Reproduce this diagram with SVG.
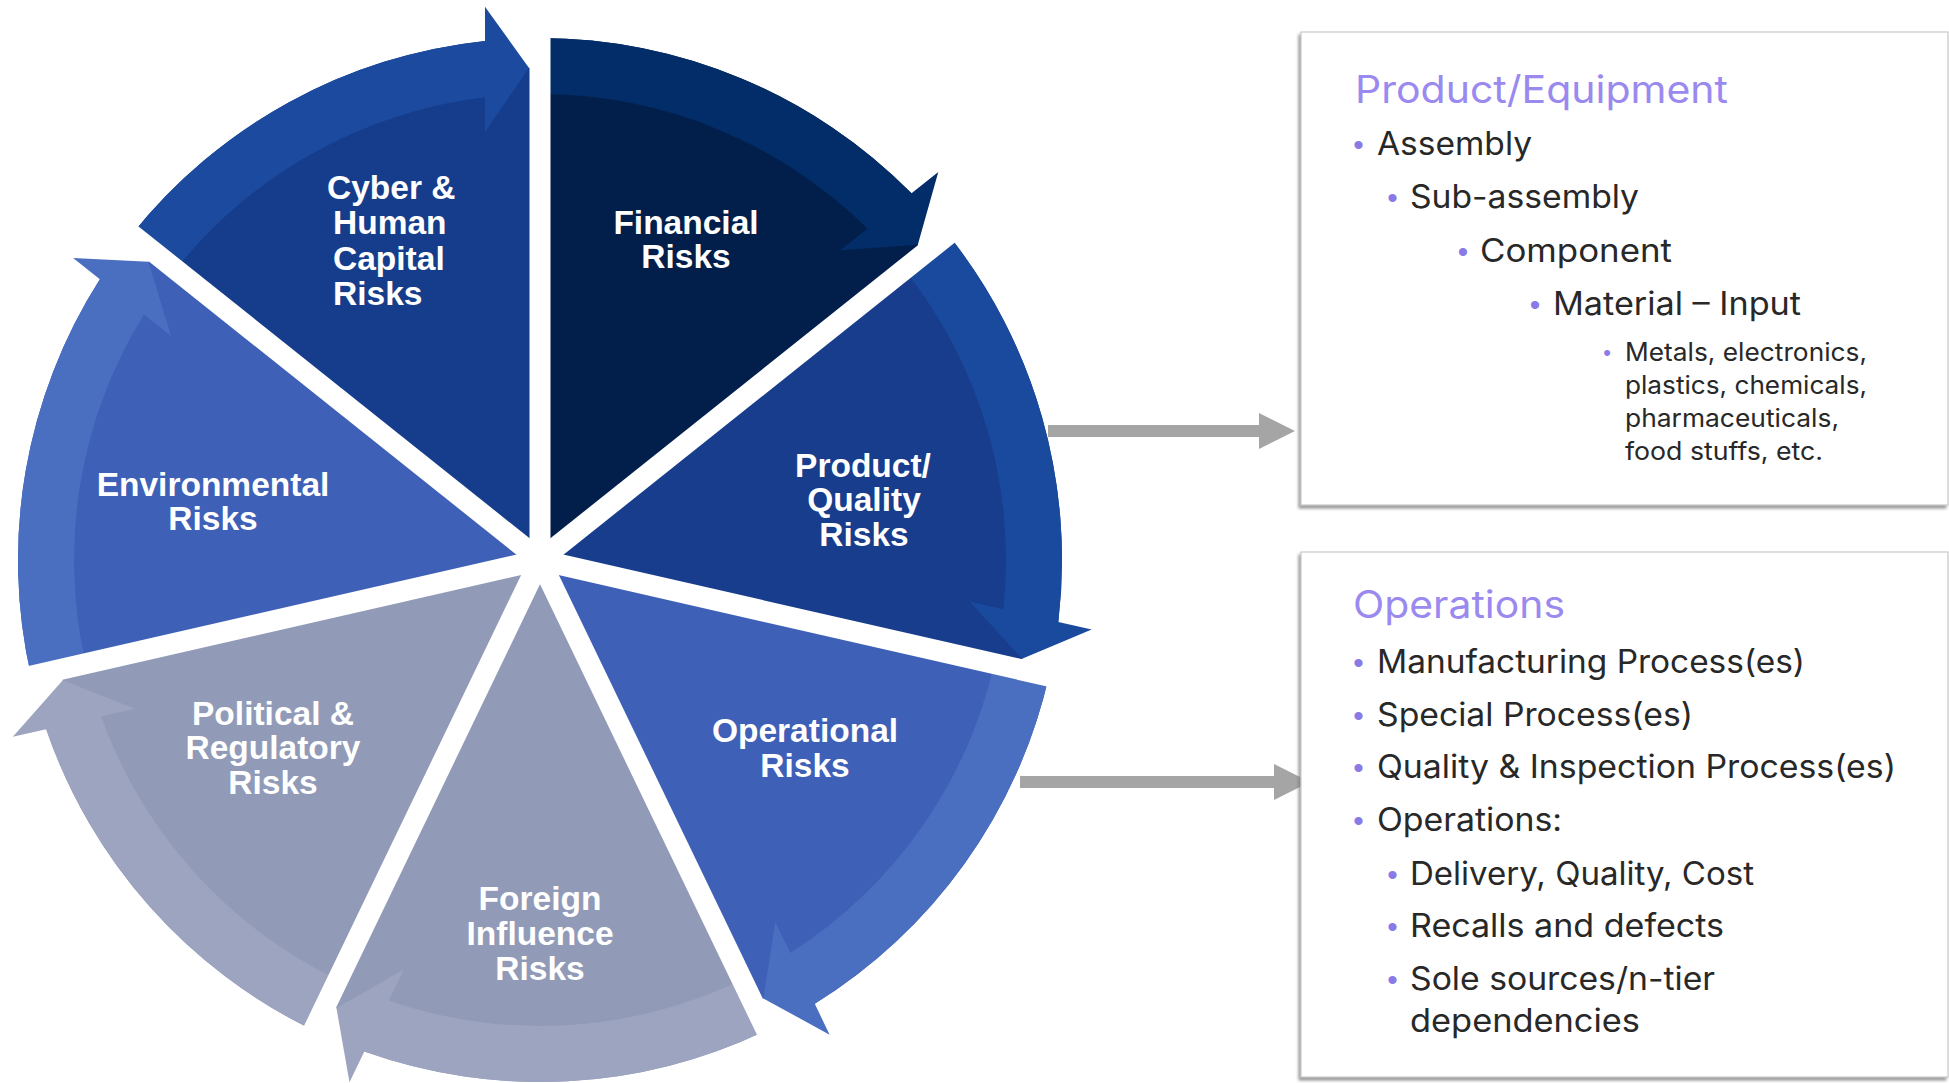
<svg xmlns="http://www.w3.org/2000/svg" xmlns:xlink="http://www.w3.org/1999/xlink" width="1949" height="1083" viewBox="0 0 1949 1083">
  <defs>
    <path id="wedge" d="M540,560 L131.9,234.5 A522,522 0 0 1 485,40.9 L529,68 L540,68 Z"/>
    <path id="band" d="M131.9,234.5 A522,522 0 0 1 485,40.9 L485,6.7 L529,68 L485,132 L485,97.3 A466,466 0 0 0 175.7,269.5 Z"/>
    <line id="gap" x1="540" y1="560" x2="540" y2="0"/>
    <filter id="shadow" x="-5%" y="-5%" width="110%" height="110%">
      <feDropShadow dx="-2" dy="3" stdDeviation="1.5" flood-color="#7a7a7a" flood-opacity="0.75"/>
    </filter>
  </defs>
  <style>
    .lbl { font-family: "Liberation Sans", Arial, sans-serif; font-weight: bold; font-size: 33.5px; fill: #ffffff; text-anchor: middle; }
    .lbl-l { font-family: "Liberation Sans", Arial, sans-serif; font-weight: bold; font-size: 33.5px; fill: #ffffff; }
    .gapline { stroke: #ffffff; stroke-width: 21; }
    .box { fill: #ffffff; stroke: #c9c9c9; stroke-width: 1.2; filter: url(#shadow); }
    .head { font-family: Inter, "Liberation Sans", sans-serif; font-size: 38px; fill: #9a8af0; }
    .body { font-family: Inter, "Liberation Sans", sans-serif; font-size: 32px; fill: #282828; }
    .small { font-family: Inter, "Liberation Sans", sans-serif; font-size: 25px; fill: #282828; }
    .bul { font-family: "Liberation Sans", Arial, sans-serif; font-size: 30px; fill: #8a7ae8; text-anchor: middle; }
    .bul-s { font-family: "Liberation Sans", Arial, sans-serif; font-size: 22px; fill: #8a7ae8; text-anchor: middle; }
    .conn { fill: #a5a5a5; }
  </style>

  <rect width="1949" height="1083" fill="#ffffff"/>

  <g id="connectors">
    <polygon class="conn" points="1048,425 1259,425 1259,413 1295,431 1259,449 1259,437 1048,437"/>
    <polygon class="conn" points="1020,776 1274,776 1274,764 1310,782 1274,800 1274,788 1020,788"/>
  </g>

  <g id="wheel">
    <g id="seg-cyber">
      <use xlink:href="#wedge" href="#wedge" fill="#163d8b"/>
      <use xlink:href="#band" href="#band" fill="#1b4a9e"/>
    </g>
    <g id="seg-financial">
      <use xlink:href="#wedge" href="#wedge" fill="#021f4c" transform="rotate(51.4286 540 560)"/>
      <use xlink:href="#band" href="#band" fill="#032d68" transform="rotate(51.4286 540 560)"/>
    </g>
    <g id="seg-product">
      <use xlink:href="#wedge" href="#wedge" fill="#173d8c" transform="rotate(102.8571 540 560)"/>
      <use xlink:href="#band" href="#band" fill="#1a4a9e" transform="rotate(102.8571 540 560)"/>
    </g>
    <g id="seg-operational">
      <use xlink:href="#wedge" href="#wedge" fill="#3f60b7" transform="rotate(154.2857 540 560)"/>
      <use xlink:href="#band" href="#band" fill="#4a6ec0" transform="rotate(154.2857 540 560)"/>
    </g>
    <g id="seg-foreign">
      <use xlink:href="#wedge" href="#wedge" fill="#919bb8" transform="rotate(205.7143 540 560)"/>
      <use xlink:href="#band" href="#band" fill="#9da4c0" transform="rotate(205.7143 540 560)"/>
    </g>
    <g id="seg-political">
      <use xlink:href="#wedge" href="#wedge" fill="#919bb8" transform="rotate(257.1429 540 560)"/>
      <use xlink:href="#band" href="#band" fill="#9da4c0" transform="rotate(257.1429 540 560)"/>
    </g>
    <g id="seg-environmental">
      <use xlink:href="#wedge" href="#wedge" fill="#3f60b7" transform="rotate(308.5714 540 560)"/>
      <use xlink:href="#band" href="#band" fill="#4a6ec0" transform="rotate(308.5714 540 560)"/>
    </g>
    <g id="gaps">
      <use xlink:href="#gap" href="#gap" class="gapline"/>
      <use xlink:href="#gap" href="#gap" class="gapline" transform="rotate(51.4286 540 560)"/>
      <use xlink:href="#gap" href="#gap" class="gapline" transform="rotate(102.8571 540 560)"/>
      <use xlink:href="#gap" href="#gap" class="gapline" transform="rotate(154.2857 540 560)"/>
      <use xlink:href="#gap" href="#gap" class="gapline" transform="rotate(205.7143 540 560)"/>
      <use xlink:href="#gap" href="#gap" class="gapline" transform="rotate(257.1429 540 560)"/>
      <use xlink:href="#gap" href="#gap" class="gapline" transform="rotate(308.5714 540 560)"/>
    </g>
  </g>

  <g id="label-cyber">
    <text class="lbl-l" x="327" y="199">Cyber &amp;</text>
    <text class="lbl-l" x="333" y="234">Human</text>
    <text class="lbl-l" x="333" y="270">Capital</text>
    <text class="lbl-l" x="333" y="305">Risks</text>
  </g>
  <g id="label-financial">
    <text class="lbl" x="686" y="234">Financial</text>
    <text class="lbl" x="686" y="268">Risks</text>
  </g>
  <g id="label-product">
    <text class="lbl" x="863" y="477">Product/</text>
    <text class="lbl" x="864" y="511">Quality</text>
    <text class="lbl" x="864" y="546">Risks</text>
  </g>
  <g id="label-operational">
    <text class="lbl" x="805" y="742">Operational</text>
    <text class="lbl" x="805" y="777">Risks</text>
  </g>
  <g id="label-foreign">
    <text class="lbl" x="540" y="910">Foreign</text>
    <text class="lbl" x="540" y="945">Influence</text>
    <text class="lbl" x="540" y="980">Risks</text>
  </g>
  <g id="label-political">
    <text class="lbl" x="273" y="725">Political &amp;</text>
    <text class="lbl" x="273" y="759">Regulatory</text>
    <text class="lbl" x="273" y="794">Risks</text>
  </g>
  <g id="label-environmental">
    <text class="lbl" x="213" y="496">Environmental</text>
    <text class="lbl" x="213" y="530">Risks</text>
  </g>

  <g id="box-product-equipment">
    <rect class="box" x="1301" y="32" width="647" height="473"/>
    <text class="head" x="1355" y="103" textLength="373" lengthAdjust="spacingAndGlyphs">Product/Equipment</text>
    <text class="bul" x="1358.5" y="155">•</text>
    <text class="body" x="1377" y="155" textLength="155" lengthAdjust="spacingAndGlyphs">Assembly</text>
    <text class="bul" x="1392.5" y="208">•</text>
    <text class="body" x="1410" y="208" textLength="229" lengthAdjust="spacingAndGlyphs">Sub-assembly</text>
    <text class="bul" x="1463" y="261.5">•</text>
    <text class="body" x="1480" y="261.5" textLength="192" lengthAdjust="spacingAndGlyphs">Component</text>
    <text class="bul" x="1535" y="315">•</text>
    <text class="body" x="1553" y="315" textLength="248" lengthAdjust="spacingAndGlyphs">Material – Input</text>
    <text class="bul-s" x="1607" y="360">•</text>
    <text class="small" x="1625" y="361" textLength="242" lengthAdjust="spacingAndGlyphs">Metals, electronics,</text>
    <text class="small" x="1625" y="394" textLength="242" lengthAdjust="spacingAndGlyphs">plastics, chemicals,</text>
    <text class="small" x="1625" y="427" textLength="214" lengthAdjust="spacingAndGlyphs">pharmaceuticals,</text>
    <text class="small" x="1625" y="460" textLength="198" lengthAdjust="spacingAndGlyphs">food stuffs, etc.</text>
  </g>

  <g id="box-operations">
    <rect class="box" x="1301" y="552" width="647" height="525"/>
    <text class="head" x="1353" y="618" textLength="212" lengthAdjust="spacingAndGlyphs">Operations</text>
    <text class="bul" x="1358.5" y="673">•</text>
    <text class="body" x="1377" y="673" textLength="428" lengthAdjust="spacingAndGlyphs">Manufacturing Process(es)</text>
    <text class="bul" x="1358.5" y="725.5">•</text>
    <text class="body" x="1377" y="725.5" textLength="316" lengthAdjust="spacingAndGlyphs">Special Process(es)</text>
    <text class="bul" x="1358.5" y="777.5">•</text>
    <text class="body" x="1377" y="777.5" textLength="519" lengthAdjust="spacingAndGlyphs">Quality &amp; Inspection Process(es)</text>
    <text class="bul" x="1358.5" y="831">•</text>
    <text class="body" x="1377" y="831" textLength="185" lengthAdjust="spacingAndGlyphs">Operations:</text>
    <text class="bul" x="1392.5" y="884.5">•</text>
    <text class="body" x="1410" y="884.5" textLength="344" lengthAdjust="spacingAndGlyphs">Delivery, Quality, Cost</text>
    <text class="bul" x="1392.5" y="937">•</text>
    <text class="body" x="1410" y="937" textLength="314" lengthAdjust="spacingAndGlyphs">Recalls and defects</text>
    <text class="bul" x="1392.5" y="990">•</text>
    <text class="body" x="1410" y="990" textLength="305" lengthAdjust="spacingAndGlyphs">Sole sources/n-tier</text>
    <text class="body" x="1410" y="1032" textLength="230" lengthAdjust="spacingAndGlyphs">dependencies</text>
  </g>
</svg>
